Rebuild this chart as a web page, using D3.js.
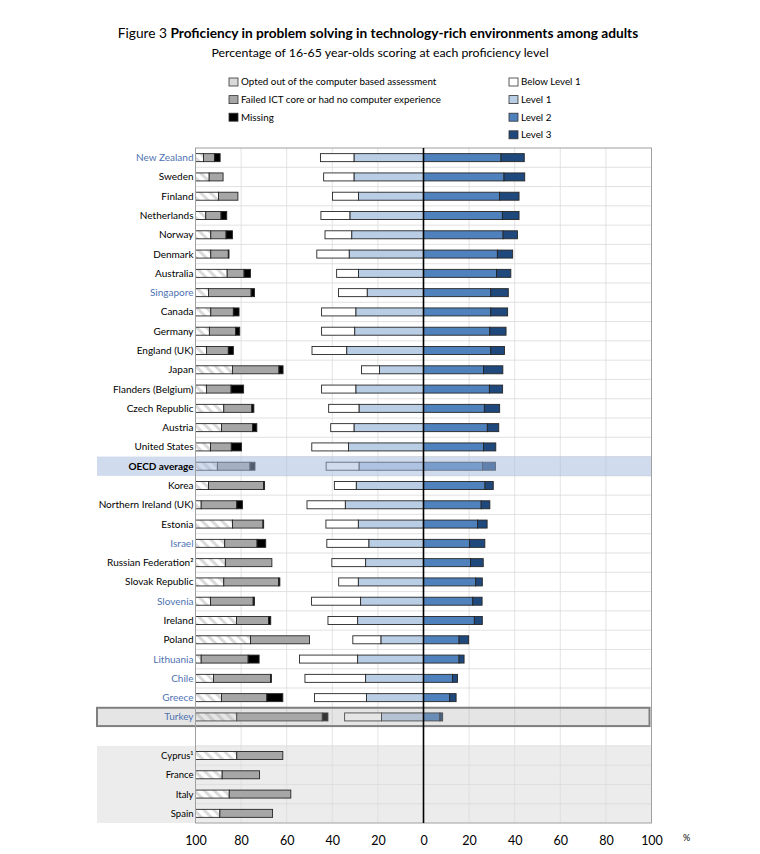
<!DOCTYPE html>
<html><head><meta charset="utf-8">
<script src="https://cdn.jsdelivr.net/npm/d3@7"></script>
<style>body{margin:0;background:#fff;} svg{display:block;} text{font-family:Lato,"Open Sans",sans-serif;}</style>
</head><body><svg id="c" width="760" height="854"></svg>
<script>
const countries = ["New Zealand","Sweden","Finland","Netherlands","Norway","Denmark","Australia","Singapore","Canada","Germany","England (UK)","Japan","Flanders (Belgium)","Czech Republic","Austria","United States","OECD average","Korea","Northern Ireland (UK)","Estonia","Israel","Russian Federation²","Slovak Republic","Slovenia","Ireland","Poland","Lithuania","Chile","Greece","Turkey","Cyprus¹","France","Italy","Spain"];
const blueLabels = ["New Zealand","Singapore","Israel","Slovenia","Lithuania","Chile","Greece","Turkey"];
const partialCountries = ["Cyprus¹","France","Italy","Spain"];
const optedOut  = [3.5,6.0,10.1,4.5,6.7,6.7,13.9,5.7,6.7,6.1,4.8,16.2,4.8,12.4,11.4,6.6,9.6,5.7,2.5,16.2,12.8,13.1,12.4,6.6,18.0,24.1,2.5,7.9,11.4,18.1,18.1,11.7,14.8,10.7];
const failedICT = [4.8,6.1,8.5,6.7,6.7,7.7,7.4,18.7,9.9,11.5,9.6,20.4,10.8,12.3,13.6,9.1,14.3,24.2,15.6,13.4,14.2,20.4,24.0,18.7,14.0,25.9,20.6,25.0,19.9,37.5,20.2,16.4,27.0,23.1];
const missing   = [2.5,0,0,2.5,2.8,0.3,2.8,1.5,2.5,1.8,2.2,1.8,5.5,0.9,1.9,4.5,2.2,0.4,2.5,0.3,3.8,0,0.6,0.6,1.0,0,4.8,0.4,7.0,2.5,0,0,0,0];
const belowLevel1 = [14.7,13.3,11.4,12.7,11.7,14.2,9.6,12.6,15.0,14.5,15.2,7.9,15.0,13.3,10.2,16.1,14.4,9.6,16.8,14.2,18.4,14.8,8.6,21.5,13.0,12.3,25.5,26.6,22.8,16.2,null,null,null,null];
const level1 = [30.5,30.5,28.5,32.3,31.5,32.6,28.5,24.7,29.7,30.2,33.7,19.3,29.7,28.3,30.5,32.9,28.3,29.5,34.3,28.6,24.0,25.4,28.6,27.6,28.9,18.7,28.9,25.4,25.0,18.4,null,null,null,null];
const level2 = [34.0,35.3,33.4,34.6,34.9,32.4,32.0,29.5,29.5,29.1,29.5,26.3,28.9,26.7,28.0,26.3,25.9,27.0,25.3,23.7,20.2,20.6,22.9,21.6,22.3,15.6,15.6,12.7,11.5,7.2,null,null,null,null];
const level3 = [10.2,9.1,8.5,7.3,6.3,6.7,6.3,7.7,7.4,7.1,6.0,8.5,5.8,6.7,5.0,5.4,5.7,3.6,3.8,4.2,6.7,5.6,2.9,4.1,3.5,4.2,2.2,2.2,2.8,1.2,null,null,null,null];
const tickValues = [-100,-80,-60,-40,-20,0,20,40,60,80,100];

const leftLegend = ["Opted out of the computer based assessment","Failed ICT core or had no computer experience","Missing"];
const rightLegend = ["Below Level 1","Level 1","Level 2","Level 3"];

const colors = {opt:"url(#hatch)", fail:"#a6a6a6", miss:"#000000", bl1:"#ffffff", l1:"#b9cde5", l2:"#4f81bd", l3:"#1f497d"};

const svg = d3.select("#c");
const defs = svg.append("defs");
const pat = defs.append("pattern").attr("id","hatch").attr("patternUnits","userSpaceOnUse")
  .attr("width",7).attr("height",7).attr("patternTransform","rotate(45)");
pat.append("rect").attr("width",7).attr("height",7).attr("fill","#ffffff");
pat.append("rect").attr("x",0).attr("y",0).attr("width",7).attr("height",3).attr("fill","#dadada");

const L = 195.5, R = 651.5, T = 148, B = 823;
const x = d3.scaleLinear().domain([-100,100]).range([L,R]);
const rows = [...countries.slice(0,30), "_gap", ...countries.slice(30)];
const y = d3.scaleBand().domain(rows).range([T,B]);
const bh = 8;

// title
const title = svg.append("text").attr("x",378).attr("y",38).attr("text-anchor","middle").attr("font-size",13.7).attr("fill","#000");
title.append("tspan").text("Figure 3 ");
title.append("tspan").attr("font-weight","bold").text("Proficiency in problem solving in technology-rich environments among adults");
svg.append("text").attr("x",380).attr("y",57).attr("text-anchor","middle").attr("font-size",12.3).attr("fill","#000")
  .text("Percentage of 16-65 year-olds scoring at each proficiency level");

// legend
const legL = ["#d9d9d9", colors.fail, colors.miss];
leftLegend.forEach((t,i)=>{
  const yy = 82 + i*17.6;
  svg.append("rect").attr("x",229).attr("y",yy-4).attr("width",9).attr("height",8).attr("fill",legL[i]).attr("stroke","#333").attr("stroke-width",0.8);
  svg.append("text").attr("x",241).attr("y",yy+3.3).attr("font-size",9.8).text(t);
});
const legR = [colors.bl1, colors.l1, colors.l2, colors.l3];
rightLegend.forEach((t,i)=>{
  const yy = 82 + i*17.6;
  svg.append("rect").attr("x",509).attr("y",yy-4).attr("width",9).attr("height",8).attr("fill",legR[i]).attr("stroke","#333").attr("stroke-width",0.8);
  svg.append("text").attr("x",521).attr("y",yy+3.3).attr("font-size",9.8).text(t);
});

// gray section for partial countries
const gTop = y(partialCountries[0]);
svg.append("rect").attr("x",97).attr("y",gTop).attr("width",R-97).attr("height",B-gTop).attr("fill","#ececec");

// gridlines
svg.append("g").selectAll("line.v").data(tickValues.filter(v=>v!==0 && Math.abs(v)!==100)).join("line")
  .attr("x1",d=>x(d)).attr("x2",d=>x(d)).attr("y1",T).attr("y2",B).attr("stroke","#dcdcdc").attr("stroke-width",0.8);
svg.append("g").selectAll("line.h").data(rows.slice(1)).join("line")
  .attr("x1",L).attr("x2",R).attr("y1",d=>y(d)).attr("y2",d=>y(d)).attr("stroke","#d9d9d9").attr("stroke-width",0.8);

// bars
const segs = [];
countries.forEach((c,i)=>{
  let s = -100;
  [["opt",optedOut[i]],["fail",failedICT[i]],["miss",missing[i]]].forEach(([k,v])=>{
    if(v>0){ segs.push({c,k,x0:s,x1:s+v}); s+=v; }
  });
  if(level1[i]!=null){
    segs.push({c,k:"l1",x0:-level1[i],x1:0});
    segs.push({c,k:"bl1",x0:-level1[i]-belowLevel1[i],x1:-level1[i]});
    segs.push({c,k:"l2",x0:0,x1:level2[i]});
    segs.push({c,k:"l3",x0:level2[i],x1:level2[i]+level3[i]});
  }
});
svg.append("g").selectAll("rect").data(segs).join("rect")
  .attr("x",d=>x(d.x0)).attr("width",d=>x(d.x1)-x(d.x0))
  .attr("y",d=>y(d.c)+y.bandwidth()/2-bh/2).attr("height",bh)
  .attr("fill",d=>colors[d.k]).attr("stroke","#262626").attr("stroke-width",0.9);

// OECD highlight overlay
svg.append("rect").attr("x",97).attr("y",y("OECD average")).attr("width",R-97).attr("height",y.bandwidth())
  .attr("fill","rgb(161,185,221)").attr("opacity",0.5);
// Turkey box
svg.append("rect").attr("x",97).attr("y",y("Turkey")+0.5).attr("width",R-2-97).attr("height",y.bandwidth()-1)
  .attr("fill","rgb(170,170,170)").attr("fill-opacity",0.3).attr("stroke","#7f7f7f").attr("stroke-width",2);

// plot border
svg.append("rect").attr("x",L).attr("y",T).attr("width",R-L).attr("height",B-T).attr("fill","none").attr("stroke","#a0a0a0").attr("stroke-width",1);
// zero line
svg.append("line").attr("x1",x(0)).attr("x2",x(0)).attr("y1",T).attr("y2",B).attr("stroke","#000").attr("stroke-width",1.6);

// row labels
svg.append("g").selectAll("text").data(countries).join("text")
  .attr("x",L-2).attr("y",d=>y(d)+y.bandwidth()/2+3.5).attr("text-anchor","end")
  .attr("font-size",d=>partialCountries.includes(d)?9.5:10)
  .attr("font-weight",d=>d==="OECD average"?"bold":"normal")
  .attr("fill",d=>blueLabels.includes(d)?"#4f73b3":"#000").text(d=>d);

// x axis
const ax = d3.axisBottom(x).tickValues(tickValues).tickSize(0).tickFormat(d=>Math.abs(d));
const axg = svg.append("g").attr("transform",`translate(0,${B+10})`).call(ax);
axg.select(".domain").remove();
axg.selectAll("text").attr("font-size",12.5).attr("font-family","Lato,'Open Sans',sans-serif").attr("fill","#000");
svg.append("text").attr("x",683).attr("y",841).attr("font-size",9).text("%");
</script></body></html>
